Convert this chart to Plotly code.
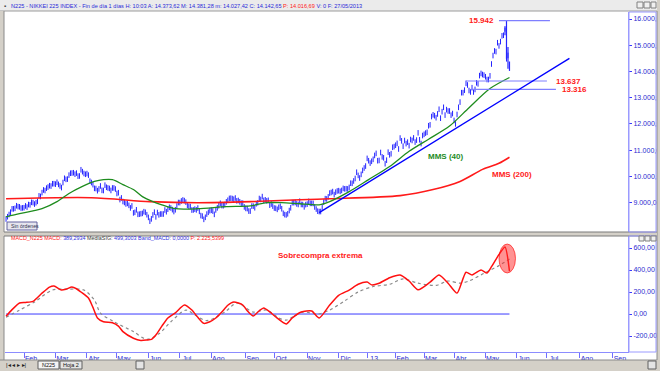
import pandas as pd
import plotly.graph_objects as go
from plotly.subplots import make_subplots

# ---------------- DATA ----------------
holidays = ["2012-03-20", "2012-04-30", "2012-05-03", "2012-05-04", "2012-07-16", "2012-09-17",
            "2012-10-08", "2012-11-23", "2012-12-24", "2012-12-31", "2013-01-01", "2013-01-02",
            "2013-01-03", "2013-01-14", "2013-02-11", "2013-03-20", "2013-04-29", "2013-05-03",
            "2013-05-06", "2013-07-15", "2013-09-16", "2013-09-23"]
price_start = "2012-01-16"
closes = [
    8378, 8466, 8550, 8639, 8766, 8765, 8785, 8883, 8849, 8841, 8793, 8802,
    8809, 8876, 8831, 8929, 8917, 9015, 9002, 8947, 8999, 9052, 9260, 9238, 9384, 9485, 9463,
    9554, 9595, 9647, 9633, 9722, 9723,
    9707, 9777, 9698, 9637, 9576, 9768, 9929, 9889, 9899, 10050, 10123, 10129, 10141, 10086,
    10127, 10011, 10018, 10255, 10182, 10114, 10083,
    10109, 10050, 9819, 9767, 9688, 9546, 9538, 9458, 9524, 9637, 9470, 9464, 9667, 9588, 9561,
    9542, 9467, 9561, 9562, 9520,
    9350, 9380, 9119, 9181, 9045, 9009, 8953, 8973, 8900, 8801, 8876, 8611, 8633, 8729, 8556,
    8563, 8580, 8593, 8657, 8633, 8542,
    8440, 8295, 8383, 8533, 8639, 8459, 8625, 8536, 8568, 8568, 8569, 8721, 8655, 8752, 8824,
    8798, 8735, 8663, 8730, 8874, 9006,
    9003, 9066, 9104, 9079, 9020, 8896, 8857, 8851, 8720, 8724, 8755, 8726, 8795, 8669, 8509,
    8488, 8365, 8443, 8566, 8635, 8695,
    8711, 8680, 8555, 8726, 8803, 8882, 8978, 8891, 8885, 8929, 9033, 9092, 9162, 9171, 9157,
    9131, 9178, 9070, 9085, 9033, 8983, 8984, 8839,
    8783, 8775, 8680, 8680, 8871, 8869, 8807, 8959, 8995, 9159, 9123, 9232, 9086, 9110, 9069,
    9091, 8906, 8949, 8870,
    8796, 8786, 8746, 8824, 8863, 8769, 8596, 8546, 8534, 8577, 8701, 8806, 9002, 9002, 9010,
    8954, 8932, 9056, 8933, 8929, 8841, 8928,
    8946, 9051, 8975, 8975, 8972, 8837, 8757, 8676, 8661, 8664, 8830, 9024, 9153, 9142, 9222,
    9366, 9389, 9423, 9308, 9400, 9446,
    9458, 9432, 9468, 9545, 9527, 9533, 9525, 9581, 9742, 9737, 9828, 9923, 10160, 10040, 9940,
    10080, 10230, 10322, 10395,
    10688, 10599, 10508, 10578, 10652, 10801, 10879, 10600, 10610, 10913, 10747, 10709, 10486,
    10620, 10926, 10824, 10866, 11113, 11138,
    11191, 11260, 11046, 11463, 11357, 11153, 11369, 11251, 11307, 11173, 11407, 11372, 11468,
    11309, 11385, 11662, 11398, 11253, 11559,
    11606, 11652, 11683, 11932, 11968, 12283, 12349, 12314, 12239, 12381, 12560, 12220, 12468,
    12635, 12338, 12546, 12494, 12493, 12335, 12397,
    12135, 12003, 12362, 12634, 12833, 13192, 13193, 13288, 13549, 13485, 13275, 13221, 13382,
    13220, 13316, 13568, 13529, 13843, 13926, 13884, 13861,
    13799, 13694, 13694, 13834, 14285, 14607, 14782, 14758, 15096, 14975, 15138, 15360, 15381,
    15627, 14484, 14612, 14142,
]
spike_dates = ["2013-05-22", "2013-05-23", "2013-05-24", "2013-05-27"]
spike_high = [15680, 15942, 14933, 14381]
spike_low = [15380, 14484, 14100, 14027]

mms40_dates = ["2012-01-16", "2012-01-27", "2012-02-09", "2012-02-17", "2012-03-02", "2012-03-14",
               "2012-03-28", "2012-04-09", "2012-04-17", "2012-04-25", "2012-05-09", "2012-05-18",
               "2012-05-28", "2012-06-06", "2012-06-14", "2012-06-27", "2012-07-19", "2012-08-15",
               "2012-09-06", "2012-09-24", "2012-10-09", "2012-10-25", "2012-11-13", "2012-11-22",
               "2012-12-12", "2013-01-07", "2013-01-28", "2013-02-15", "2013-03-06", "2013-03-27",
               "2013-04-15", "2013-05-08", "2013-05-27"]
mms40_vals = [8460, 8580, 8690, 8770, 9040, 9350, 9620, 9810, 9880, 9880, 9690, 9500,
              9230, 9040, 8920, 8770, 8770, 8850, 8880, 9000, 9000, 8960, 8920, 9040,
              9420, 9880, 10380, 10960, 11420, 11920, 12620, 13350, 13770]

mms200_dates = ["2012-01-16", "2012-04-05", "2012-06-04", "2012-07-19", "2012-09-06", "2012-10-25",
                "2012-11-22", "2013-02-06", "2013-03-11", "2013-04-05", "2013-04-26", "2013-05-16",
                "2013-05-27"]
mms200_vals = [9150, 9190, 9040, 9000, 9040, 9110, 9150, 9270, 9500, 9810, 10270, 10500, 10730]

macd_dates = ["2012-01-16", "2012-01-20", "2012-01-27", "2012-02-02", "2012-02-09", "2012-02-17",
              "2012-02-24", "2012-02-29", "2012-03-07", "2012-03-12", "2012-03-16", "2012-03-22",
              "2012-03-27", "2012-04-03", "2012-04-06", "2012-04-11", "2012-04-17", "2012-04-25",
              "2012-05-02", "2012-05-09", "2012-05-18", "2012-05-25", "2012-05-31", "2012-06-05",
              "2012-06-08", "2012-06-14", "2012-06-20", "2012-06-27", "2012-07-05", "2012-07-12",
              "2012-07-19", "2012-07-25", "2012-07-31", "2012-08-06", "2012-08-10", "2012-08-16",
              "2012-08-22", "2012-08-30", "2012-09-04", "2012-09-10", "2012-09-14", "2012-09-20",
              "2012-09-26", "2012-10-02", "2012-10-12", "2012-10-18", "2012-10-26", "2012-11-06",
              "2012-11-13", "2012-11-22", "2012-12-03", "2012-12-12", "2012-12-20", "2013-01-04",
              "2013-01-09", "2013-01-17", "2013-01-28", "2013-02-06", "2013-02-15", "2013-02-25",
              "2013-03-07", "2013-03-15", "2013-03-26", "2013-04-03", "2013-04-11", "2013-04-17",
              "2013-04-25", "2013-05-02", "2013-05-09", "2013-05-15", "2013-05-22", "2013-05-27"]
macd_vals = [-20, 40, 100, 105, 115, 190, 245, 255, 218, 225, 245, 230,
             200, 145, 60, -36, -70, -80, -110, -160, -220, -240, -236, -230,
             -190, -110, -36, 10, 82, 36, -30, -85, -70, -36, 18, 80,
             110, 82, 30, -18, 30, 55, 20, -27, -90, -36, 18, 27,
             -36, 82, 170, 218, 270, 290, 265, 280, 330, 355, 300, 220,
             290, 355, 280, 190, 380, 355, 400, 373, 430, 520, 610, 389]

signal_dates = ["2012-01-16", "2012-01-27", "2012-02-10", "2012-02-28", "2012-03-14", "2012-03-29",
                "2012-04-09", "2012-04-13", "2012-04-26", "2012-05-18", "2012-05-31", "2012-06-12",
                "2012-06-22", "2012-07-06", "2012-07-17", "2012-07-27", "2012-08-14", "2012-08-24",
                "2012-09-10", "2012-09-24", "2012-10-04", "2012-10-12", "2012-10-29", "2012-11-12",
                "2012-11-22", "2012-12-07", "2012-12-20", "2013-01-10", "2013-01-28", "2013-02-08",
                "2013-02-25", "2013-03-13", "2013-03-26", "2013-04-05", "2013-04-15", "2013-04-30",
                "2013-05-16", "2013-05-27"]
signal_vals = [-30, 36, 110, 218, 227, 218, 127, 9, -70, -160, -230, -180,
               -70, 36, -9, -60, 18, 100, 18, 36, -36, -55, 18, 0,
               36, 120, 200, 250, 270, 320, 280, 260, 300, 280, 300, 370,
               440, 499]
band_macd = 0

level_vals = [15942, 13637, 13316]
level_start = ["2013-05-16", "2013-04-11", "2013-04-16"]
level_end = ["2013-07-03", "2013-07-01", "2013-07-09"]
level_text = ["15.942", "13.637", "13.316"]
level_text_dates = ["2013-05-14", "2013-07-08", "2013-07-12"]
level_text_side = ["right", "left", "left"]

trend_dates = ["2012-11-13", "2013-07-23"]
trend_vals = [8620, 14500]

ma_labels = ["MMS (40)", "MMS (200)"]
ma_label_dates = ["2013-03-04", "2013-05-08"]
ma_label_vals = [10770, 10077]

macd_note = "Sobrecompra extrema"
macd_note_date = "2012-11-14"
macd_note_val = 536
ellipse_dates = ["2013-05-16", "2013-05-31"]
ellipse_vals = [373, 636]

month_labels = ["Feb", "Mar", "Abr", "May", "Jun", "Jul", "Ago", "Sep", "Oct", "Nov", "Dic", "13",
                "Feb", "Mar", "Abr", "May", "Jun", "Jul", "Ago", "Sep"]
month_starts = pd.date_range("2012-02-01", "2013-09-01", freq="MS")
price_ticks = [9000, 10000, 11000, 12000, 13000, 14000, 15000, 16000]
macd_ticks = [-200, 0, 200, 400, 600]

# ---------------- TRADING CALENDAR ----------------
cal = pd.bdate_range(price_start, "2013-10-31")
cal = cal[~cal.isin(pd.to_datetime(holidays))]


def P(d):
    return int(cal.searchsorted(pd.Timestamp(d)))


def es(v):
    s = f"{v:,.2f}"
    return s.replace(",", "X").replace(".", ",").replace("X", ".")


px_price = list(range(len(closes)))
BLUE_TXT = "#2b2bd0"
FONT = "Arial, Liberation Sans, sans-serif"

fig = make_subplots(rows=2, cols=1, shared_xaxes=True, vertical_spacing=0.0)

# price bars
fig.add_trace(go.Scatter(x=px_price, y=closes, mode="markers",
                         marker=dict(symbol="line-ns", size=4, line=dict(width=1, color="#2424ff")),
                         hoverinfo="skip"), row=1, col=1)
sx, sy = [], []
for d, h, l in zip(spike_dates, spike_high, spike_low):
    sx += [P(d), P(d), None]
    sy += [h, l, None]
fig.add_trace(go.Scatter(x=sx, y=sy, mode="lines", line=dict(color="#2424ff", width=1.2),
                         hoverinfo="skip"), row=1, col=1)

# moving averages
fig.add_trace(go.Scatter(x=[P(d) for d in mms200_dates], y=mms200_vals, mode="lines",
                         line=dict(color="#ff1a1a", width=1.6, shape="spline", smoothing=0.8),
                         hoverinfo="skip"), row=1, col=1)
fig.add_trace(go.Scatter(x=[P(d) for d in mms40_dates], y=mms40_vals, mode="lines",
                         line=dict(color="#1e8c1e", width=1.3, shape="spline", smoothing=0.8),
                         hoverinfo="skip"), row=1, col=1)

# level lines
for v, a, b in zip(level_vals, level_start, level_end):
    fig.add_trace(go.Scatter(x=[P(a), P(b)], y=[v, v], mode="lines",
                             line=dict(color="#7f7fff", width=1.2), hoverinfo="skip"), row=1, col=1)
# trend line
fig.add_trace(go.Scatter(x=[P(d) for d in trend_dates], y=trend_vals, mode="lines",
                         line=dict(color="#0000ff", width=1.4), hoverinfo="skip"), row=1, col=1)

# MACD
fig.add_trace(go.Scatter(x=[0, len(closes) - 1], y=[band_macd, band_macd], mode="lines",
                         line=dict(color="#3a3aff", width=1), hoverinfo="skip"), row=2, col=1)
fig.add_trace(go.Scatter(x=[P(d) for d in signal_dates], y=signal_vals, mode="lines",
                         line=dict(color="#8a8a8a", width=1.2, dash="dot", shape="spline", smoothing=0.8),
                         hoverinfo="skip"), row=2, col=1)
fig.add_trace(go.Scatter(x=[P(d) for d in macd_dates], y=macd_vals, mode="lines",
                         line=dict(color="#ff1010", width=1.5, shape="spline", smoothing=0.6),
                         hoverinfo="skip"), row=2, col=1)

# ---------------- LAYOUT ----------------
W, H = 660, 371
L, R, T, B = 5, 32, 12, 19
PW, PH = W - L - R, H - T - B


def fx(X):
    return (X - L) / PW


def fy(Y):
    return (H - B - Y) / PH


xr = [-0.7, 415.1]
fig.update_layout(
    width=W, height=H, margin=dict(l=L, r=R, t=T, b=B, autoexpand=False),
    paper_bgcolor="white", plot_bgcolor="white", showlegend=False,
    font=dict(family=FONT),
    xaxis=dict(range=xr, showticklabels=False, ticks="", showgrid=False, zeroline=False, showline=False,
               automargin=False),
    xaxis2=dict(range=xr, showgrid=False, zeroline=False, showline=True, linecolor="#8c8cff", linewidth=1,
                tickmode="array", tickvals=[P(d) for d in month_starts], ticktext=month_labels,
                ticks="outside", ticklen=5, tickcolor="#6f6fff", tickwidth=1, automargin=False,
                tickfont=dict(size=7, color=BLUE_TXT, family=FONT), ticklabelshift=7,
                ticklabelstandoff=-5),
    yaxis=dict(domain=[fy(232), 1], range=[7883, 16267], side="right", showgrid=False, zeroline=False,
               showline=True, linecolor="#9a9aff", tickmode="array", tickvals=price_ticks,
               ticktext=[es(v) for v in price_ticks], ticks="outside", ticklen=3, tickcolor="#3a3aff",
               tickfont=dict(size=7, color=BLUE_TXT, family=FONT), automargin=False),
    yaxis2=dict(domain=[0, fy(236)], range=[-345, 709], side="right", showgrid=False, zeroline=False,
                showline=True, linecolor="#9a9aff", tickmode="array", tickvals=macd_ticks,
                ticktext=[es(v) for v in macd_ticks], ticks="outside", ticklen=3, tickcolor="#3a3aff",
                tickfont=dict(size=7, color=BLUE_TXT, family=FONT), automargin=False),
)

shapes = []


def rect(x0, y0, x1, y1, fill=None, line=None, lw=1, layer="above"):
    shapes.append(dict(type="rect", xref="paper", yref="paper", x0=fx(x0), x1=fx(x1), y0=fy(y1), y1=fy(y0),
                       fillcolor=fill if fill else "rgba(0,0,0,0)",
                       line=dict(color=line if line else "rgba(0,0,0,0)", width=lw if line else 0),
                       layer=layer))


def hline(x0, x1, y, color, lw=1):
    shapes.append(dict(type="line", xref="paper", yref="paper", x0=fx(x0), x1=fx(x1), y0=fy(y), y1=fy(y),
                       line=dict(color=color, width=lw), layer="above"))


def vline(x, y0, y1, color, lw=1):
    shapes.append(dict(type="line", xref="paper", yref="paper", x0=fx(x), x1=fx(x), y0=fy(y0), y1=fy(y1),
                       line=dict(color=color, width=lw), layer="above"))


GRAY = "#d4d0c8"
# title bar
rect(0, 0, 660, 11, fill="#ebebeb")
hline(0, 660, 11, "#9c9c9c")
# left and right window frame
rect(0, 11, 4, 371, fill=GRAY)
vline(4, 11, 360, "#8a8a8a")
rect(657, 0, 660, 371, fill=GRAY)
vline(657, 11, 360, "#8a8a8a")
# separator between panels
rect(0, 232, 657, 236, fill=GRAY)
hline(4, 657, 232, "#7a7a7a")
hline(4, 657, 236, "#7a7a7a")
# right axis boxes
rect(629, 12, 656, 232, line="#9a9aff")
rect(629, 236, 656, 352, line="#9a9aff")
# bottom tab bar
rect(0, 360, 657, 371, fill=GRAY)
hline(0, 657, 360, "#8a8a8a")
rect(38, 361, 59, 369, fill="#f4f4f4", line="#606060")
rect(60, 361, 82, 369, fill="#e4e4e4", line="#606060")
rect(136, 361, 144, 369, fill="#e4e4e4", line="#606060")
rect(648, 361, 656, 369, fill="#e4e4e4", line="#606060")
# "Sin ordenes" button
rect(7, 222, 37, 230, fill="#e6e6ee", line="#6464a0")
# title bar buttons
rect(637, 2, 643, 8, fill="#f0f0f0", line="#808080")
rect(644, 2, 650, 8, fill="#f0f0f0", line="#808080")
rect(651, 2, 656, 8, fill="#f0f0f0", line="#808080")
rect(639, 236, 644, 241, fill="#f0f0f0", line="#808080")
rect(645, 236, 650, 241, fill="#f0f0f0", line="#808080")
rect(651, 236, 656, 241, fill="#f0f0f0", line="#808080")

# ellipse (data coordinates on MACD panel)
shapes.append(dict(type="circle", xref="x2", yref="y2", x0=P(ellipse_dates[0]), x1=P(ellipse_dates[1]),
                   y0=ellipse_vals[0], y1=ellipse_vals[1], fillcolor="rgba(255,40,40,0.5)",
                   line=dict(color="rgba(255,0,0,0.6)", width=1), layer="above"))
fig.update_layout(shapes=shapes)

ann = []


def ptext(X, Y, text, size=5.5, color="#2020c0", anchor="left"):
    ann.append(dict(xref="paper", yref="paper", x=fx(X), y=fy(Y), text=text, showarrow=False,
                    xanchor=anchor, yanchor="middle", font=dict(size=size, color=color, family=FONT)))


title_txt = ("N225 - NIKKEI 225 INDEX - Fin de día 1 días H: 10:03 A: 14.373,62 M: 14.381,28 "
             "m: 14.027,42 C: 14.142,65 <span style='color:#ff2020'>P: 14.016,69</span> V: 0 F: 27/05/2013")
ptext(9, 5.5, title_txt, size=5.6, color="#2a2ad8")
ptext(2, 5.5, "▪", size=6, color="#404040")
ptext(9, 238, "<span style='color:#ff2020'>MACD_N225 MACD: </span>389,2934 "
              "<span style='color:#404040'>MediaSIG:</span> 499,3003 Band_MACD: 0,0000 "
              "<span style='color:#ff2020'>P: 2.225,5399</span>", size=5.4, color="#3030e0")
ptext(8.5, 226, "Sin órdenes", size=5.2, color="#303050")
ptext(4, 365, "|◂ ◂ ▸ ▸|", size=6, color="#202020")
ptext(48.5, 365, "N225", size=5.5, color="#101010", anchor="center")
ptext(71, 365, "Hoja 2", size=5.5, color="#101010", anchor="center")

# data-referenced labels
for t, d, v, side in zip(level_text, level_text_dates, level_vals, level_text_side):
    ann.append(dict(xref="x", yref="y", x=P(d), y=v, text=f"<b>{t}</b>", showarrow=False,
                    xanchor=side, yanchor="middle", font=dict(size=8, color="#ff2020", family=FONT)))
for t, d, v, c in zip(ma_labels, ma_label_dates, ma_label_vals, ["#1e8c1e", "#ff2020"]):
    ann.append(dict(xref="x", yref="y", x=P(d), y=v, text=f"<b>{t}</b>", showarrow=False,
                    xanchor="left", yanchor="middle", font=dict(size=8, color=c, family=FONT)))
ann.append(dict(xref="x2", yref="y2", x=P(macd_note_date), y=macd_note_val, text=f"<b>{macd_note}</b>",
                showarrow=False, xanchor="center", yanchor="middle",
                font=dict(size=8, color="#ff2020", family=FONT)))
fig.update_layout(annotations=ann)

fig.write_html("out.html", config={"displayModeBar": False},
               post_script="document.body.style.margin='0';document.body.style.overflow='hidden';")
